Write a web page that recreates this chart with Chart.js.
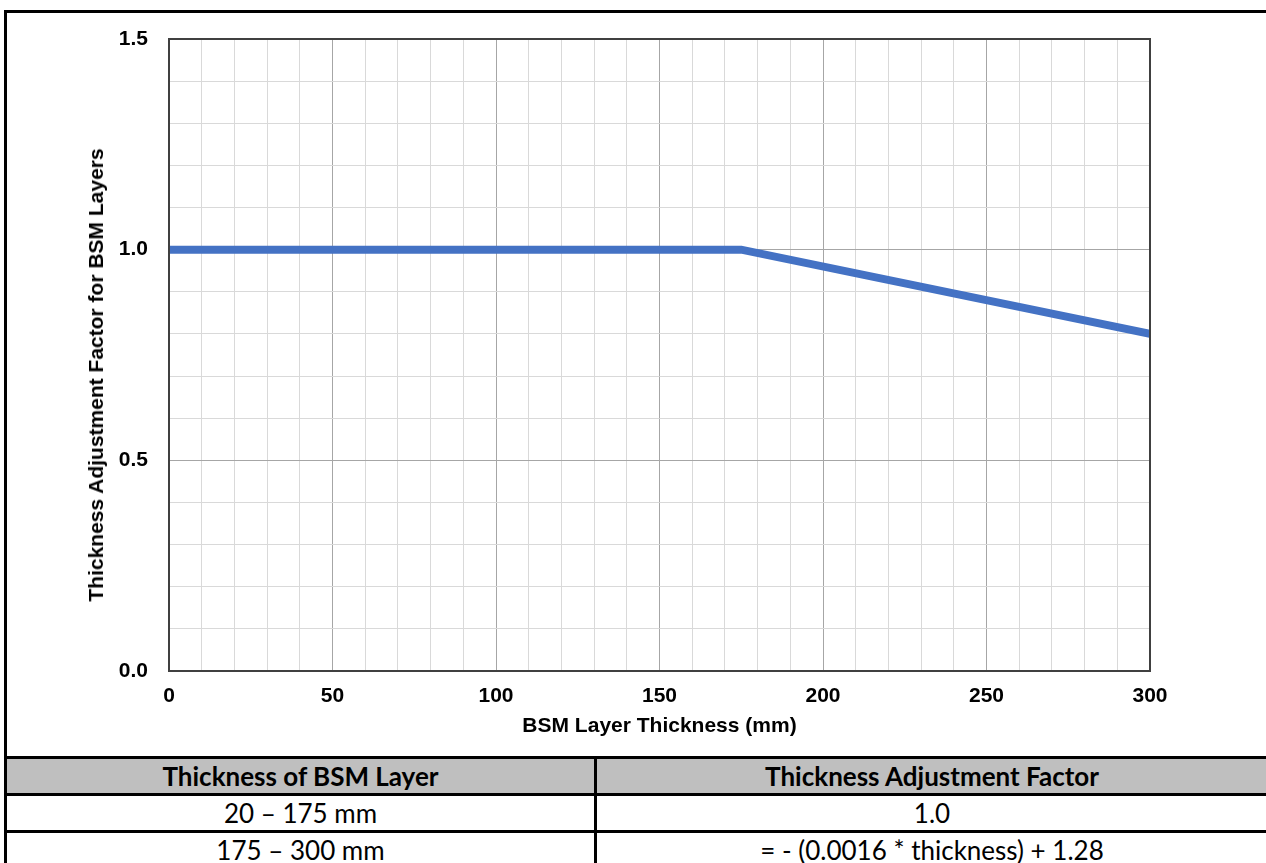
<!DOCTYPE html>
<html><head><meta charset="utf-8">
<script src="https://cdn.jsdelivr.net/npm/chart.js@4.4.1/dist/chart.umd.min.js"></script>
<style>
html,body{margin:0;padding:0;width:1266px;height:863px;overflow:hidden;background:#fff;position:relative;}
#frame{position:absolute;left:4px;top:10px;width:1266px;height:900px;border:3px solid #000;box-sizing:border-box;}
#chartBox{position:absolute;left:0;top:0;width:1266px;height:756px;}
#ytitle{position:absolute;left:96px;top:375px;transform:translate(-50%,-50%) rotate(-90deg);white-space:nowrap;font:bold 21px "Liberation Sans",Arial,sans-serif;color:#000;}
#tbl{position:absolute;left:4px;top:756px;width:1266px;background:#000;padding:3px;box-sizing:border-box;display:grid;grid-template-columns:587px 1fr;grid-auto-rows:34px;gap:3px;}
.cell{background:#fff;display:flex;align-items:center;justify-content:center;font-family:Lato,sans-serif;font-size:26px;color:#000;white-space:nowrap;}
.hd{background:#bfbfbf;font-weight:bold;}
</style>
</head><body>
<div id="frame"></div>
<div id="chartBox"><canvas id="c"></canvas></div>
<div id="ytitle">Thickness Adjustment Factor for BSM Layers</div>
<div id="tbl"></div>
<script>
// Data
const thicknessMm = [0, 175, 300];
const adjustmentFactor = [1.0, 1.0, 0.8];
const xAxisTitle = 'BSM Layer Thickness (mm)';
const yAxisTitle = 'Thickness Adjustment Factor for BSM Layers';
const tableHeaders = ['Thickness of BSM Layer', 'Thickness Adjustment Factor'];
const tableRangeCol = ['20 \u2013 175 mm', '175 \u2013 300 mm'];
const tableFactorCol = ['1.0', '= - (0.0016 * thickness) + 1.28'];

// Table
const tbl = document.getElementById('tbl');
tableHeaders.forEach(h => { const d = document.createElement('div'); d.className = 'cell hd'; d.textContent = h; tbl.appendChild(d); });
tableRangeCol.forEach((r, i) => {
  [r, tableFactorCol[i]].forEach(t => { const d = document.createElement('div'); d.className = 'cell'; d.textContent = t; tbl.appendChild(d); });
});
document.getElementById('ytitle').textContent = yAxisTitle;

const FONT = '"Liberation Sans", Arial, sans-serif';
const isMajorX = v => Math.abs(v / 50 - Math.round(v / 50)) < 1e-6;
const isMajorY = v => Math.abs(v * 2 - Math.round(v * 2)) < 1e-6;

const framePlugin = {
  id: 'frame',
  afterDatasetsDraw(chart) {
    const a = chart.chartArea, ctx = chart.ctx;
    ctx.save();
    ctx.strokeStyle = '#404040';
    ctx.lineWidth = 2;
    ctx.strokeRect(a.left, a.top, a.right - a.left, a.bottom - a.top);
    ctx.restore();
  }
};

new Chart(document.getElementById('c'), {
  type: 'line',
  data: {
    datasets: [{
      data: thicknessMm.map((x, i) => ({ x: x, y: adjustmentFactor[i] })),
      borderColor: '#4472C4',
      borderWidth: 8,
      pointRadius: 0,
      tension: 0,
      fill: false
    }]
  },
  options: {
    responsive: true,
    maintainAspectRatio: false,
    animation: false,
    devicePixelRatio: 1,
    layout: { padding: { top: 39, right: 116, bottom: 0, left: 0 } },
    plugins: { legend: { display: false }, tooltip: { enabled: false } },
    scales: {
      x: {
        type: 'linear', min: 0, max: 300,
        afterFit: s => { s.height = 85; },
        border: { display: false },
        grid: { drawTicks: false, lineWidth: 1, color: c => (c.tick && isMajorX(c.tick.value)) ? '#a6a6a6' : '#d9d9d9' },
        ticks: { stepSize: 10, autoSkip: false, maxRotation: 0, padding: 13, color: '#000',
          font: { family: FONT, size: 21, weight: 'bold' },
          callback: v => isMajorX(v) ? String(Math.round(v)) : '' },
        title: { display: true, text: xAxisTitle, color: '#000', padding: { top: 0, bottom: 17 },
          font: { family: FONT, size: 21, weight: 'bold' } }
      },
      y: {
        type: 'linear', min: 0, max: 1.5,
        afterFit: s => { s.width = 169; },
        border: { display: false },
        grid: { drawTicks: false, lineWidth: 1, color: c => (c.tick && isMajorY(c.tick.value)) ? '#a6a6a6' : '#d9d9d9' },
        ticks: { stepSize: 0.1, autoSkip: false, padding: 21, color: '#000',
          font: { family: FONT, size: 21, weight: 'bold' },
          callback: v => isMajorY(v) ? Number(v).toFixed(1) : '' },
        title: { display: false }
      }
    }
  },
  plugins: [framePlugin]
});
</script>
</body></html>
